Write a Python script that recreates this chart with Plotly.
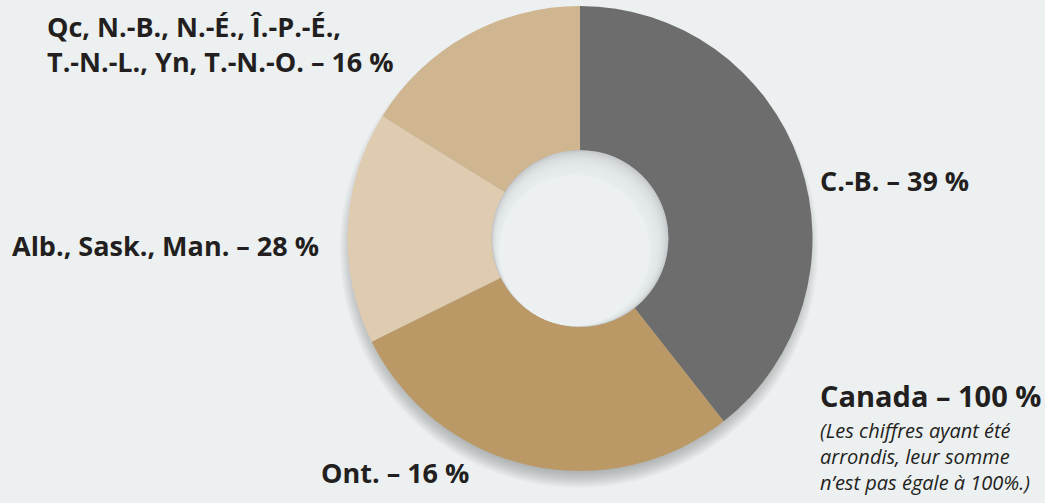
import plotly.graph_objects as go

W, H = 1045, 503
BG = "#ecf0f1"
TXT = "#231f20"

# ---- data ----
regions = ["C.-B.", "Alb., Sask., Man.", "Ont.", "Qc, N.-B., N.-É., Î.-P.-É., T.-N.-L., Yn, T.-N.-O."]
shares = [39, 28, 16, 16]
colors = ["#6d6d6d", "#ba9966", "#dfcbb0", "#cfb690"]

label_texts = {
    "qc": "Qc, N.-B., N.-É., Î.-P.-É.,<br>T.-N.-L., Yn, T.-N.-O. – 16 %",
    "cb": "C.-B. – 39 %",
    "alb": "Alb., Sask., Man. – 28 %",
    "ont": "Ont. – 16 %",
    "can": "Canada – 100 %",
    "note": "(Les chiffres ayant été<br>arrondis, leur somme<br>n’est pas égale à 100%.)",
}

# ---- geometry (pixels) ----
CX, CY, R = 580.0, 238.5, 232.5
HOLE = 0.38
r_hole = R * HOLE


def dom(cx, cy, r):
    return dict(x=[(cx - r) / W, (cx + r) / W], y=[1 - (cy + r) / H, 1 - (cy - r) / H])


def disc(cx, cy, r, color):
    return go.Pie(values=[1], labels=["_"], marker=dict(colors=[color], line=dict(width=0)),
                  domain=dom(cx, cy, r), textinfo="none", hoverinfo="skip",
                  showlegend=False, sort=False)


fig = go.Figure()

# outer soft shadow (decorative): stacked faint discs approximate a blur
for s in range(7, -15, -1):
    fig.add_trace(disc(CX - 1, CY + 10, R + s, "rgba(50,55,60,0.02)"))

# main donut
fig.add_trace(go.Pie(
    labels=regions, values=shares, hole=HOLE, sort=False, direction="clockwise", rotation=0,
    marker=dict(colors=colors, line=dict(width=0)),
    textinfo="none", hoverinfo="label+value", showlegend=False,
    domain=dom(CX, CY, R),
))

# inner shadow of the hole (decorative)
fig.add_trace(disc(CX, CY, r_hole, "#c8cbce"))
ux, uy = -0.42, 0.91
for d in range(1, 13):
    fig.add_trace(disc(CX + ux * d, CY + uy * d, r_hole - d, "rgba(236,240,241,0.2)"))
fig.add_trace(disc(CX + ux * 13, CY + uy * 13, r_hole - 13, BG))

bold = dict(family="Open Sans", size=27, color=TXT, weight=700)


def ann(x, y, text, font, align="left"):
    fig.add_annotation(x=x / W, y=1 - y / H, xref="paper", yref="paper", text=text,
                       showarrow=False, xanchor="left", yanchor="middle", align=align,
                       font=font)


ann(45, 44, label_texts["qc"], bold)
ann(818, 180, label_texts["cb"], bold)
ann(10, 245, label_texts["alb"], bold)
ann(319, 472, label_texts["ont"], bold)
ann(818, 395, label_texts["can"], dict(family="Open Sans", size=29, color=TXT, weight=700))
ann(818, 456, label_texts["note"], dict(family="Open Sans", size=20, color=TXT, style="italic"))

fig.update_layout(
    width=W, height=H, margin=dict(l=0, r=0, t=0, b=0),
    paper_bgcolor=BG, plot_bgcolor=BG,
)

fig.write_html("out.html", config={"displayModeBar": False},
               post_script="document.body.style.margin='0px';document.body.style.background='%s';" % BG)
